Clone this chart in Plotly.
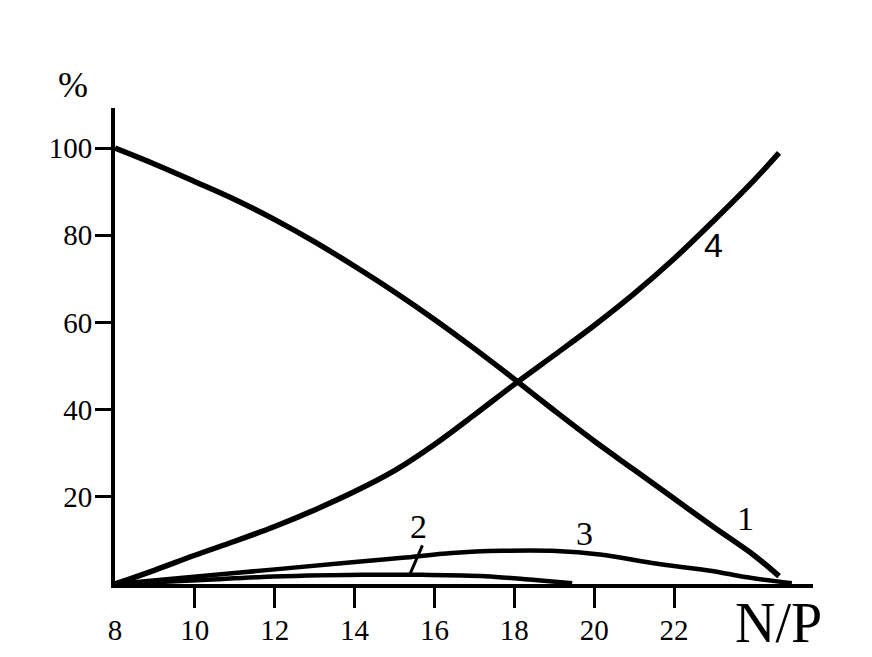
import plotly.graph_objects as go

# ---- data ----
c1_x = [8, 9, 10, 11, 12, 13, 14, 15, 16, 17, 18, 19, 20, 21, 22, 23, 24, 24.63]
c1_y = [100.0, 96.3, 92.3, 88.2, 83.6, 78.5, 72.9, 67.0, 60.7, 54.0, 47.0, 39.8, 32.8, 26.2, 19.6, 13.0, 6.6, 1.8]

c2_x = [8.0, 10.18, 11.68, 14.19, 15.69, 17.27, 18.52, 19.45]
c2_y = [0.0, 0.9, 1.6, 2.1, 2.1, 1.8, 0.9, 0.2]

c3_x = [8.0, 11.0, 13.94, 15.19, 16.44, 17.69, 18.94, 20.2, 21.45, 22.95, 23.78, 24.95]
c3_y = [0.0, 2.5, 5.0, 6.0, 7.1, 7.6, 7.6, 6.7, 4.8, 3.0, 1.6, 0.2]

c4_x = [8, 9, 10, 11, 12, 13, 14, 15, 16, 17, 18, 19, 20, 21, 22, 23, 24, 24.63]
c4_y = [0.0, 3.2, 6.6, 9.8, 13.2, 17.0, 21.2, 26.0, 32.0, 38.8, 45.8, 52.5, 59.3, 66.6, 74.6, 83.4, 92.6, 98.9]

x_ticks = [8, 10, 12, 14, 16, 18, 20, 22]
x_tick_labels = ["8", "10", "12", "14", "16", "18", "20", "22"]
y_ticks = [20, 40, 60, 80, 100]
y_tick_labels = ["20", "40", "60", "80", "100"]

curve_names = ["1", "2", "3", "4"]
label_x = [23.78, 15.61, 19.77, 22.98]
label_y = [15.1, 13.3, 11.5, 77.8]
pointer2_x = 15.39
pointer2_y = 2.3

SERIF = "Liberation Serif, Times New Roman, serif"

fig = go.Figure()
for xs, ys, w, name in [(c1_x, c1_y, 5.5, "1"), (c2_x, c2_y, 4.5, "2"),
                        (c3_x, c3_y, 4.5, "3"), (c4_x, c4_y, 5.5, "4")]:
    fig.add_trace(go.Scatter(x=xs, y=ys, mode="lines", name=name,
                             line=dict(color="black", width=w, shape="spline", smoothing=1.0),
                             showlegend=False, hoverinfo="skip"))

for i, t in enumerate(curve_names):
    fig.add_annotation(x=label_x[i], y=label_y[i], xref="x", yref="y", text=t,
                       showarrow=False, xanchor="center", yanchor="middle",
                       font=dict(family=("Liberation Sans, Arial, sans-serif" if t == "4" else SERIF),
                                 size=34, color="black"))

# pointer line from label 2 to curve 2
fig.add_annotation(x=pointer2_x, y=pointer2_y, xref="x", yref="y", text="",
                   showarrow=True, arrowhead=0, arrowwidth=3, arrowcolor="black",
                   ax=13, ay=-30)

# plot area (page px): x 115..813, y 108..584
fig.add_annotation(x=(73 - 115) / 698, y=(584 - 85) / 476, xref="paper", yref="paper", text="%",
                   showarrow=False, xanchor="center", yanchor="middle",
                   font=dict(family=SERIF, size=36, color="black"))
fig.add_annotation(x=(778 - 115) / 698, y=(584 - 623) / 476, xref="paper", yref="paper", text="N/P",
                   showarrow=False, xanchor="center", yanchor="middle",
                   font=dict(family=SERIF, size=56, color="black"))

# the page body has an 8px default margin, so the figure is 8px smaller
fig.update_layout(
    template="none",
    width=864, height=649,
    margin=dict(l=107, r=59, t=100, b=73, pad=0),
    paper_bgcolor="white", plot_bgcolor="white",
    xaxis=dict(range=[8, 25.48], showgrid=False, zeroline=False, automargin=False,
               showline=True, linecolor="black", linewidth=4,
               tickmode="array", tickvals=x_ticks, ticktext=x_tick_labels,
               ticks="", ticklabelstandoff=17,
               tickfont=dict(family=SERIF, size=29, color="black"),
               minor=dict(tickmode="array", tickvals=x_ticks[1:], ticks="outside",
                          ticklen=20, tickwidth=3, tickcolor="black", showgrid=False)),
    yaxis=dict(range=[0, 109.2], showgrid=False, zeroline=False, automargin=False,
               showline=True, linecolor="black", linewidth=4,
               tickmode="array", tickvals=y_ticks, ticktext=y_tick_labels,
               ticks="outside", ticklen=16, tickwidth=3, tickcolor="black",
               ticklabelstandoff=-3,
               tickfont=dict(family=SERIF, size=29, color="black")),
)

fig.write_html("out.html")
